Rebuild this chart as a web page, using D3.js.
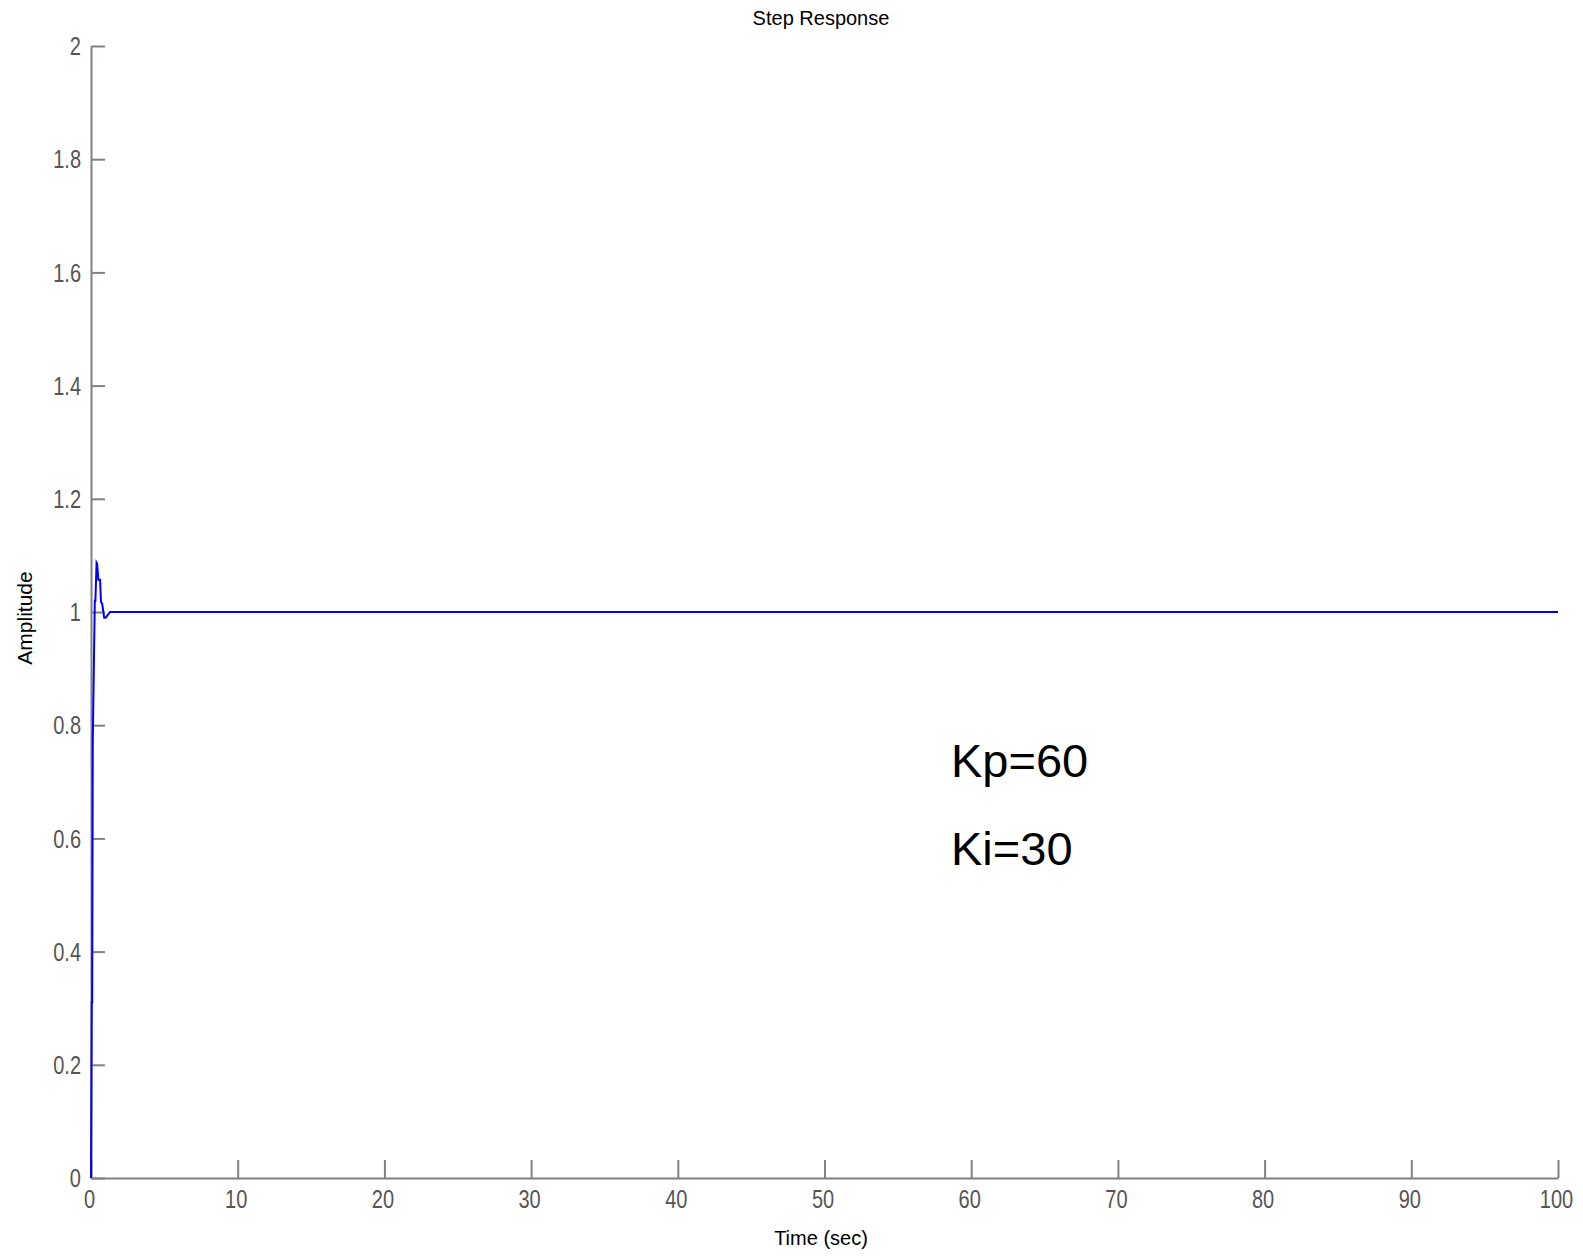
<!DOCTYPE html>
<html>
<head>
<meta charset="utf-8">
<script src="https://cdn.jsdelivr.net/npm/d3@7"></script>
<style>
  html, body { margin: 0; padding: 0; background: #ffffff; }
  svg { display: block; }
  text { font-family: "Liberation Sans", Arial, sans-serif; }
</style>
</head>
<body>
<svg id="chart" width="1583" height="1256"></svg>
<script>
// Step response samples: time (sec) and amplitude
const timeSec = [0, 0.05, 0.08, 0.12, 0.26, 0.3, 0.38, 0.42, 0.5, 0.62, 0.68, 0.76, 0.9, 1.0, 1.3, 100];
const amplitude = [0, 0.31, 0.31, 0.77, 1.02, 1.02, 1.087, 1.085, 1.057, 1.057, 1.018, 1.015, 0.99, 0.99, 1.0, 1.0];

const xTicks = [0, 10, 20, 30, 40, 50, 60, 70, 80, 90, 100];
const yTicks = [0, 0.2, 0.4, 0.6, 0.8, 1, 1.2, 1.4, 1.6, 1.8, 2];

const titleText = "Step Response";
const xLabel = "Time (sec)";
const yLabel = "Amplitude";
const notes = ["Kp=60", "Ki=30"];

const margin = { left: 91, top: 46, right: 25, bottom: 78 };
const W = 1583, H = 1256;
const innerW = W - margin.left - margin.right;
const innerH = H - margin.top - margin.bottom;

const svg = d3.select("#chart");
const g = svg.append("g").attr("transform", `translate(${margin.left},${margin.top})`);

const x = d3.scaleLinear().domain([0, 100]).range([0, innerW]);
const y = d3.scaleLinear().domain([0, 2]).range([innerH, 0]);

const axisColor = "#808080";
const labelColor = "#555555";

// Left axis, ticks pointing inward
const yAxis = g.append("g")
  .call(d3.axisLeft(y).tickValues(yTicks).tickSize(-14).tickSizeOuter(0)
    .tickFormat(d => d3.format("~g")(d)));
// Bottom axis, ticks pointing inward
const xAxis = g.append("g")
  .attr("transform", `translate(0,${innerH})`)
  .call(d3.axisBottom(x).tickValues(xTicks).tickSize(-18).tickSizeOuter(0));

[yAxis, xAxis].forEach(a => {
  a.select(".domain").attr("stroke", axisColor).attr("stroke-width", 2);
  a.selectAll(".tick line").attr("stroke", axisColor).attr("stroke-width", 2);
  a.selectAll(".tick text")
    .attr("fill", labelColor)
    .style("font-family", "'Liberation Sans', Arial, sans-serif")
    .attr("font-size", 20);
});

// Tall, narrow tick digits
yAxis.selectAll(".tick text")
  .attr("x", null).attr("dy", "0.35em")
  .attr("transform", "translate(-10,0) scale(1,1.25)");
xAxis.selectAll(".tick text")
  .attr("y", null).attr("dy", null)
  .attr("transform", "translate(-2,30) scale(1,1.25)");

// Response curve
const line = d3.line()
  .x((d, i) => x(timeSec[i]))
  .y(d => y(d));

g.append("path")
  .datum(amplitude)
  .attr("fill", "none")
  .attr("stroke", "#0000ff")
  .attr("stroke-width", 2)
  .attr("stroke-linejoin", "miter")
  .attr("d", line);

// Title and axis labels
svg.append("text")
  .attr("x", 821).attr("y", 25)
  .attr("text-anchor", "middle")
  .attr("font-size", 20)
  .attr("fill", "#000")
  .text(titleText);

svg.append("text")
  .attr("x", 821).attr("y", 1245)
  .attr("text-anchor", "middle")
  .attr("font-size", 20)
  .attr("fill", "#000")
  .text(xLabel);

svg.append("text")
  .attr("transform", "translate(32,618) rotate(-90)")
  .attr("text-anchor", "middle")
  .attr("font-size", 21)
  .attr("fill", "#000")
  .text(yLabel);

// Controller gains annotation
svg.selectAll("text.note")
  .data(notes)
  .enter().append("text")
  .attr("class", "note")
  .attr("x", 951)
  .attr("y", (d, i) => 777 + i * 88)
  .attr("font-size", 47)
  .attr("fill", "#000")
  .text(d => d);
</script>
</body>
</html>
